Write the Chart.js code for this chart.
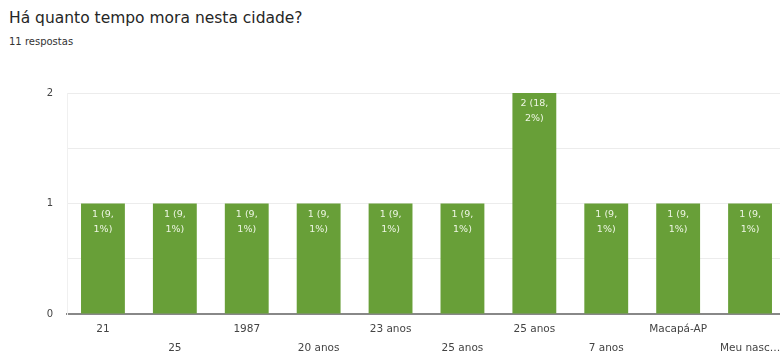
<!DOCTYPE html>
<html>
<head>
<meta charset="utf-8">
<script src="https://cdn.jsdelivr.net/npm/chart.js@4"></script>
<style>
  body { margin: 0; width: 780px; height: 358px; overflow: hidden; background: #fff; font-family: "DejaVu Sans", Arial, sans-serif; position: relative; }
  #title { position: absolute; left: 9px; top: 9px; font-size: 15.5px; color: #262626; }
  #sub { position: absolute; left: 9px; top: 36px; font-size: 10px; color: #333; }
  #wrap { position: absolute; left: 0; top: 0; width: 790px; height: 358px; }
</style>
</head>
<body>
<div id="title">Há quanto tempo mora nesta cidade?</div>
<div id="sub">11 respostas</div>
<div id="wrap"><canvas id="chart"></canvas></div>
<script>
const categories = ["21", "25", "1987", "20 anos", "23 anos", "25 anos", "25 anos", "7 anos", "Macapá-AP", "Meu nasc…"];
const counts = [1, 1, 1, 1, 1, 1, 2, 1, 1, 1];
const barLabels = [
  ["1 (9,", "1%)"], ["1 (9,", "1%)"], ["1 (9,", "1%)"], ["1 (9,", "1%)"], ["1 (9,", "1%)"],
  ["1 (9,", "1%)"], ["2 (18,", "2%)"], ["1 (9,", "1%)"], ["1 (9,", "1%)"], ["1 (9,", "1%)"]
];
const FONT = "'DejaVu Sans', Arial, sans-serif";

// draws the value text inside the top of each bar
const insideLabels = {
  id: "insideLabels",
  afterDatasetsDraw(chart) {
    const ctx = chart.ctx;
    const meta = chart.getDatasetMeta(0);
    ctx.save();
    ctx.fillStyle = "#eef6e4";
    ctx.font = "9.5px " + FONT;
    ctx.textAlign = "center";
    ctx.textBaseline = "middle";
    meta.data.forEach((bar, i) => {
      barLabels[i].forEach((line, j) => {
        ctx.fillText(line, bar.x, bar.y + 11 + j * 15);
      });
    });
    ctx.restore();
  }
};

new Chart(document.getElementById("chart"), {
  type: "bar",
  data: {
    labels: categories,
    datasets: [{
      data: counts,
      backgroundColor: "#689f38",
      barPercentage: 0.61,
      categoryPercentage: 1
    }]
  },
  options: {
    responsive: true,
    maintainAspectRatio: false,
    animation: false,
    layout: { padding: { top: 93, right: 4, left: 0, bottom: 0 } },
    plugins: { legend: { display: false }, tooltip: { enabled: false } },
    scales: {
      x: {
        grid: { display: false, drawTicks: false },
        border: { display: true, color: "#888", width: 2 },
        afterFit: (scale) => { scale.height = 44; },
        ticks: {
          autoSkip: false,
          maxRotation: 0,
          color: "#444",
          padding: 6,
          font: { size: 10.5, family: FONT, lineHeight: 1.8 },
          callback: (v, i) => (i % 2 === 0 ? categories[i] : ["", categories[i]])
        }
      },
      y: {
        min: 0,
        max: 2,
        afterFit: (scale) => { scale.width = 67; },
        border: { display: true, color: "#f0f0f0" },
        grid: { color: "#ececec", drawTicks: false },
        ticks: {
          stepSize: 0.5,
          color: "#444",
          padding: 14,
          font: { size: 10, family: FONT },
          callback: (v) => (Number.isInteger(v) ? v : "")
        }
      }
    }
  },
  plugins: [insideLabels]
});
</script>
</body>
</html>
